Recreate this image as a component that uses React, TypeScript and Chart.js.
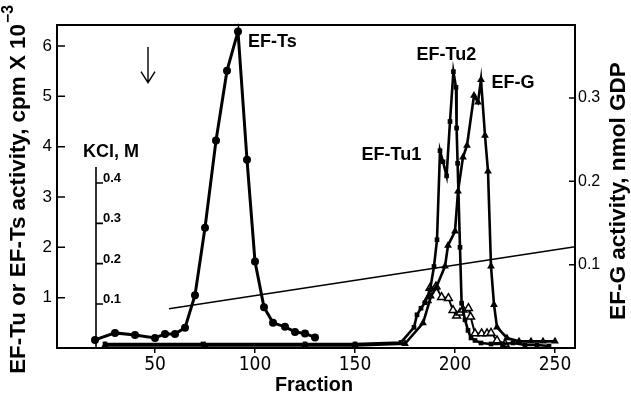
import React, { useEffect, useRef } from 'react';
import { Chart, registerables } from 'chart.js';

Chart.register(...registerables);

// ---- data ----
const tsFractions = [20, 30, 40, 50, 55, 60, 65, 70, 75, 80.5, 86, 91.5, 96, 100, 104.5, 109, 115, 120, 125, 130];
const tsValues = [0.16, 0.3, 0.26, 0.2, 0.28, 0.28, 0.4, 1.05, 2.39, 4.12, 5.51, 6.29, 3.74, 1.72, 0.81, 0.5, 0.42, 0.32, 0.29, 0.21];

const tuFractions = [25, 74, 125, 150, 173, 179.5, 181, 183, 185, 187.5, 189.5, 191, 192.5, 194, 195.8, 197.5, 199.2, 200.5, 200.8, 201.3, 202.5, 203.3, 205, 206.5, 208, 210, 213, 218, 224, 229, 235, 241, 247];
const tuValues = [0.08, 0.08, 0.08, 0.08, 0.11, 0.41, 0.66, 0.79, 0.9, 1.15, 1.62, 2.15, 3.92, 3.7, 3.42, 4.5, 5.49, 5.18, 4.37, 3.67, 2.0, 0.89, 0.56, 0.35, 0.2, 0.15, 0.1, 0.08, 0.08, 0.1, 0.06, 0.06, 0.04];

const gFractions = [25, 75, 125, 150, 175, 184, 188, 190.5, 195, 196.5, 200, 201.5, 204, 206, 209.5, 211.5, 213, 215, 216.5, 218, 219.5, 221, 226, 232, 238, 244, 250];
const gValues = [0.003, 0.003, 0.003, 0.003, 0.005, 0.03, 0.062, 0.072, 0.098, 0.123, 0.14, 0.188, 0.229, 0.243, 0.303, 0.295, 0.322, 0.255, 0.212, 0.098, 0.052, 0.025, 0.012, 0.008, 0.008, 0.008, 0.008];

const openFractions = [186, 187.5, 190.5, 193.3, 196.7, 199, 200.8, 202.5, 204, 206.7, 207.8, 210, 213.3, 216, 218, 221, 225];
const openValues = [0.95, 1.19, 1.22, 1.01, 0.99, 0.75, 0.64, 0.7, 0.76, 0.79, 0.62, 0.29, 0.29, 0.29, 0.3, 0.15, 0.08];

const kclFractions = [57, 260];
const kclValues = [0.088, 0.242];

const xTicks = [50, 100, 150, 200, 250];
const leftTicks = [1, 2, 3, 4, 5, 6];
const rightTicks = [0.1, 0.2, 0.3];
const kclTicks = [0.1, 0.2, 0.3, 0.4];

const FONT = "'Liberation Sans', Arial, Helvetica, sans-serif";
const NARROW = "'Liberation Sans Narrow', 'DejaVu Sans Condensed', 'Liberation Sans', sans-serif";

const pts = (xs: number[], ys: number[]) => xs.map((x, i) => ({ x, y: ys[i] }));

function fitFont(ctx: CanvasRenderingContext2D, text: string, target: number, weight: string, family: string) {
  ctx.font = `${weight} 20px ${family}`;
  const w = ctx.measureText(text).width;
  const size = (20 * target) / w;
  ctx.font = `${weight} ${size}px ${family}`;
  return size;
}

const decor = {
  id: 'decor',
  afterDraw(chart: any) {
    const { ctx, chartArea: a, scales } = chart;
    const x = scales.x, y = scales.y, y2 = scales.y2, k = scales.kcl;
    ctx.save();
    ctx.strokeStyle = '#000';
    ctx.fillStyle = '#000';
    // frame
    ctx.lineWidth = 2;
    ctx.strokeRect(a.left, a.top, a.right - a.left, a.bottom - a.top);
    // inner ticks
    ctx.lineWidth = 1.5;
    ctx.beginPath();
    leftTicks.forEach((v) => {
      const py = y.getPixelForValue(v);
      ctx.moveTo(a.left, py);
      ctx.lineTo(a.left + 8, py);
    });
    rightTicks.forEach((v) => {
      const py = y2.getPixelForValue(v);
      ctx.moveTo(a.right - 6, py);
      ctx.lineTo(a.right, py);
    });
    ctx.stroke();

    // KCl inset axis
    const kx = x.getPixelForValue(20.5);
    ctx.lineWidth = 1.6;
    ctx.beginPath();
    ctx.moveTo(kx, k.getPixelForValue(0.44));
    ctx.lineTo(kx, a.bottom);
    kclTicks.forEach((v) => {
      const py = k.getPixelForValue(v);
      ctx.moveTo(kx, py);
      ctx.lineTo(kx + 7, py);
    });
    ctx.stroke();
    ctx.font = `bold 13px ${FONT}`;
    ctx.textAlign = 'left';
    ctx.textBaseline = 'bottom';
    kclTicks.forEach((v) => {
      const py = k.getPixelForValue(v);
      ctx.fillText(v.toFixed(1), kx + 7, py + 2);
    });

    // arrow
    const ax = x.getPixelForValue(46.5);
    const at = y.getPixelForValue(5.98);
    const ab = y.getPixelForValue(5.27);
    ctx.lineWidth = 1.4;
    ctx.beginPath();
    ctx.moveTo(ax, at);
    ctx.lineTo(ax, ab);
    ctx.moveTo(ax - 7, ab - 11);
    ctx.lineTo(ax, ab);
    ctx.lineTo(ax + 7, ab - 11);
    ctx.stroke();

    // peak labels
    ctx.textBaseline = 'middle';
    ctx.textAlign = 'left';
    ctx.font = `bold 18px ${FONT}`;
    const labels: [string, number, number][] = [
      ['EF-Ts', 96.5, 6.08],
      ['EF-Tu2', 180.8, 5.82],
      ['EF-G', 218.3, 5.26],
      ['EF-Tu1', 153.3, 3.84],
      ['KCl, M', 14, 3.9],
    ];
    labels.forEach(([t, f, v]) => ctx.fillText(t, x.getPixelForValue(f), y.getPixelForValue(v)));

    // x title
    ctx.textAlign = 'center';
    ctx.textBaseline = 'alphabetic';
    fitFont(ctx, 'Fraction', 78, 'bold', FONT);
    ctx.fillText('Fraction', (a.left + a.right) / 2 - 2, 391);

    // left title (bottom-to-top)
    ctx.save();
    ctx.translate(25, 190);
    ctx.rotate(-Math.PI / 2);
    const main = 'EF-Tu or EF-Ts activity, cpm X 10';
    const sup = '\u22123';
    const size = fitFont(ctx, main, 350, 'bold', FONT);
    const w1 = ctx.measureText(main).width;
    ctx.font = `bold ${size * 0.7}px ${FONT}`;
    const w2 = ctx.measureText(sup).width;
    const start = -(w1 + w2) / 2;
    ctx.textAlign = 'left';
    ctx.font = `bold ${size}px ${FONT}`;
    ctx.fillText(main, start, 0);
    ctx.font = `bold ${size * 0.7}px ${FONT}`;
    ctx.fillText(sup, start + w1 + 1, -size * 0.55);
    ctx.restore();

    // right title (bottom-to-top)
    ctx.save();
    ctx.translate(625, 191);
    ctx.rotate(-Math.PI / 2);
    ctx.textAlign = 'center';
    fitFont(ctx, 'EF-G activity, nmol GDP', 258, 'bold', FONT);
    ctx.fillText('EF-G activity, nmol GDP', 0, 0);
    ctx.restore();

    ctx.restore();
  },
};

export default function App() {
  const ref = useRef<HTMLCanvasElement | null>(null);
  useEffect(() => {
    if (!ref.current) return;
    const black = '#000';
    const chart = new Chart(ref.current, {
      type: 'line',
      data: {
        datasets: [
          {
            label: 'EF-Ts',
            data: pts(tsFractions, tsValues),
            yAxisID: 'y',
            borderColor: black,
            backgroundColor: black,
            borderWidth: 3,
            pointStyle: 'circle',
            pointRadius: 4,
            pointBorderWidth: 0,
          },
          {
            label: 'EF-Tu',
            data: pts(tuFractions, tuValues),
            yAxisID: 'y',
            borderColor: black,
            backgroundColor: black,
            borderWidth: 2.6,
            pointStyle: 'rect',
            pointRadius: 3.3,
            pointBorderWidth: 0,
          },
          {
            label: 'EF-G',
            data: pts(gFractions, gValues),
            yAxisID: 'y2',
            borderColor: black,
            backgroundColor: black,
            borderWidth: 2.6,
            pointStyle: 'triangle',
            pointRadius: 4.5,
            pointBorderWidth: 0,
          },
          {
            label: 'open',
            data: pts(openFractions, openValues),
            yAxisID: 'y',
            borderColor: black,
            backgroundColor: '#fff',
            pointBackgroundColor: '#fff',
            borderWidth: 2,
            pointStyle: 'triangle',
            pointRadius: 4.5,
            pointBorderWidth: 1.5,
          },
          {
            label: 'KCl',
            data: pts(kclFractions, kclValues),
            yAxisID: 'kcl',
            borderColor: black,
            borderWidth: 1.6,
            pointRadius: 0,
          },
        ],
      },
      options: {
        animation: false,
        responsive: false,
        devicePixelRatio: 1,
        layout: { padding: { top: 25, left: 0, right: 0, bottom: 0 } },
        elements: { line: { tension: 0 } },
        plugins: { legend: { display: false }, tooltip: { enabled: false } },
        datasets: { line: { clip: 8 } } as any,
        scales: {
          x: {
            type: 'linear',
            min: 1,
            max: 260,
            afterBuildTicks: (s: any) => {
              s.ticks = xTicks.map((value) => ({ value }));
            },
            afterFit: (s: any) => {
              s.height = 50;
            },
            grid: { display: true, drawOnChartArea: false, drawTicks: true, tickLength: 5, color: black, lineWidth: 1.5 },
            border: { display: false },
            ticks: { color: black, font: { family: NARROW, size: 19 }, padding: 1, maxRotation: 0, autoSkip: false },
          },
          y: {
            position: 'left',
            min: 0,
            max: 6.417,
            afterBuildTicks: (s: any) => {
              s.ticks = leftTicks.map((value) => ({ value }));
            },
            afterFit: (s: any) => {
              s.width = 57;
            },
            grid: { display: false, drawTicks: false },
            border: { display: false },
            ticks: { color: black, font: { family: FONT, size: 17 }, padding: 5 },
          },
          y2: {
            position: 'right',
            min: 0,
            max: 0.3876,
            afterBuildTicks: (s: any) => {
              s.ticks = rightTicks.map((value) => ({ value }));
            },
            afterFit: (s: any) => {
              s.width = 56;
            },
            grid: { display: false, drawTicks: false },
            border: { display: false },
            ticks: { color: black, font: { family: FONT, size: 16 }, padding: 3, callback: (v: any) => Number(v).toFixed(1) },
          },
          kcl: {
            display: false,
            min: -0.0092,
            max: 0.792,
          },
        },
      },
      plugins: [decor],
    } as any);
    return () => chart.destroy();
  }, []);
  return (
    <canvas
      ref={ref}
      width={631}
      height={398}
      style={{ position: 'absolute', left: 0, top: 0, width: 631, height: 398, background: '#fff' }}
    />
  );
}
